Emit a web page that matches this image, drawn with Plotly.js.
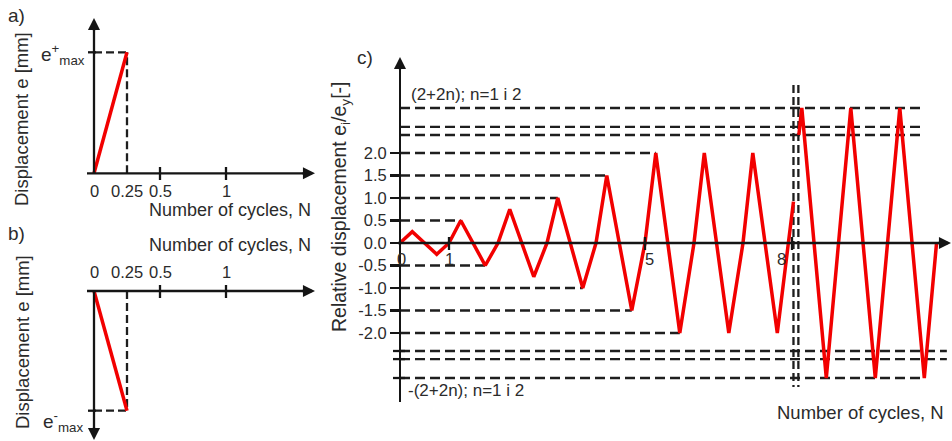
<!DOCTYPE html>
<html><head><meta charset="utf-8">
<script src="https://cdn.plot.ly/plotly-3.0.1.min.js"></script>
<style>html,body{margin:0;padding:0;background:#fff}</style>
</head><body><div id="chart" style="width:952px;height:441px"></div>
<script>
// ---------------- data ----------------
// panel a) monotonic push to e+max (e normalised to e_max)
const cyclesA = [0, 0.25];
const dispA = [0, 1];
// panel b) monotonic pull to e-max
const cyclesB = [0, 0.25];
const dispB = [0, -1];
const tickValsAB = [0, 0.25, 0.5, 1];
const tickTextAB = ['0', '0.25', '0.5', '1'];
const crossTicksAB = [0.5, 1];

// panel c) cyclic protocol, relative displacement ei/ey (broken axis above |2|)
const cyclesC = [0, 0.25, 0.75, 1, 1.24, 1.74, 2, 2.24, 2.73, 3, 3.22, 3.73, 4, 4.22, 4.73, 5,
                 5.22, 5.71, 6, 6.21, 6.71, 7, 7.2, 7.7, 8.03, null, 8.14, 8.2, 8.7, 9.2, 9.7, 10.2, 10.7, 10.95];
const relDispC = [0, 0.25, -0.25, 0, 0.5, -0.5, 0, 0.75, -0.75, 0, 1, -1, 0, 1.5, -1.5, 0,
                  2, -2, 0, 2, -2, 0, 2, -2, 0.92, null, 2.4, 3, -3, 3, -3, 3, -3, 0];
const levelValsC = [2.0, 1.5, 1.0, 0.5, 0.0, -0.5, -1.0, -1.5, -2.0];
const levelTextC = ['2.0', '1.5', '1.0', '0.5', '0.0', '-0.5', '-1.0', '-1.5', '-2.0'];
const guideLevelsC = [0.5, 1.0, 1.5, 2.0, -0.5, -1.0, -1.5, -2.0];
const breakLevelsUpC = [3.0, 2.58, 2.4];
const breakLevelsLowC = [-2.4, -2.58, -3.0];
const xTickValsC = [0, 1, 5, 8];
const xTickTextC = ['0', '1', '5', '8'];
const breakCyclesC = [8.03, 8.13];

// ---------------- layout helpers ----------------
const W = 952, H = 441;
const fx = p => p / W;
const fy = p => 1 - p / H;
function hAxis(p0, p1, origin, ppu) {
  return {domain: [p0 / W, p1 / W], range: [(p0 - origin) / ppu, (p1 - origin) / ppu]};
}
function vAxis(top, bottom, origin, ppu) {
  return {domain: [1 - bottom / H, 1 - top / H], range: [(origin - bottom) / ppu, (origin - top) / ppu]};
}
const FONT = 'Liberation Sans, Arial, sans-serif';
const TXT = '#2b2b2b';
const BLK = '#151515';
const RED = '#f20000';
const AW = 2.3;

const axA = {x: hAxis(60, 330, 94, 132), y: vAxis(5, 205, 173.3, 121)};
const axB = {x: hAxis(60, 330, 94, 132), y: vAxis(225, 441, 291, 119.7)};
const axC = {x: hAxis(340, 952, 400, 49), y: vAxis(60, 402, 243, 45)};

const hidden = {visible: false, showgrid: false, zeroline: false, fixedrange: true};

const traces = [];
const shapes = [];
const ann = [];

function dashTrace(x, y, xa, ya, dash) {
  traces.push({x, y, xaxis: xa, yaxis: ya, mode: 'lines', hoverinfo: 'skip',
    line: {color: '#1e1e1e', width: 2.3, dash: dash || '10px,5px'}});
}
function pxLine(x0, y0, x1, y1, w) {
  shapes.push({type: 'line', xref: 'paper', yref: 'paper', x0: fx(x0), y0: fy(y0), x1: fx(x1), y1: fy(y1),
    line: {color: BLK, width: w || AW}});
}
function arrow(tx, ty, ax, ay) {
  ann.push({x: fx(tx), y: fy(ty), xref: 'paper', yref: 'paper', ax, ay, text: '', showarrow: true,
    arrowhead: 2, arrowsize: 1.05, arrowwidth: AW, arrowcolor: BLK, standoff: 0, startstandoff: 0});
}
function label(text, px, py, size, opts) {
  ann.push(Object.assign({x: fx(px), y: fy(py), xref: 'paper', yref: 'paper', text, showarrow: false,
    xanchor: 'center', yanchor: 'middle', font: {family: FONT, size: size, color: TXT}}, opts || {}));
}

// ---------------- panel a ----------------
const peakA = dispA[dispA.length - 1], peakNA = cyclesA[cyclesA.length - 1];
dashTrace([0, peakNA], [peakA, peakA], 'x', 'y', '8px,4px');
dashTrace([peakNA, peakNA], [0, peakA], 'x', 'y', '8px,4px');
traces.push({x: cyclesA, y: dispA, xaxis: 'x', yaxis: 'y', mode: 'lines', hoverinfo: 'skip',
  line: {color: RED, width: 3.5}});
pxLine(94, 173.3, 94, 24); pxLine(87, 173.3, 308, 173.3);
arrow(94, 18, 0, 14); arrow(315, 173.3, -14, 0);
shapes.push({type: 'line', xref: 'paper', yref: 'y', x0: fx(88), x1: fx(96), y0: peakA, y1: peakA, line: {color: BLK, width: AW}});
crossTicksAB.forEach(v => shapes.push({type: 'line', xref: 'x', yref: 'paper', x0: v, x1: v,
  y0: fy(167), y1: fy(180), line: {color: BLK, width: AW}}));
tickValsAB.forEach((v, i) => ann.push({x: v, xref: 'x', y: fy(191), yref: 'paper', text: tickTextAB[i],
  showarrow: false, xanchor: 'center', yanchor: 'middle', font: {family: FONT, size: 16.5, color: TXT}}));
label('Number of cycles, N', 229.5, 210, 18);
label('Displacement e [mm]', 22, 119, 18.5, {textangle: -90});
label('a)', 16, 15, 19);
label('e<sup>+</sup><sub>max</sub>', 87, 55, 19, {xanchor: 'right'});

// ---------------- panel b ----------------
const peakB = dispB[dispB.length - 1], peakNB = cyclesB[cyclesB.length - 1];
dashTrace([0, peakNB], [peakB, peakB], 'x2', 'y2', '8px,4px');
dashTrace([peakNB, peakNB], [0, peakB], 'x2', 'y2', '8px,4px');
traces.push({x: cyclesB, y: dispB, xaxis: 'x2', yaxis: 'y2', mode: 'lines', hoverinfo: 'skip',
  line: {color: RED, width: 3.5}});
pxLine(94, 291, 94, 432); pxLine(87, 291, 308, 291);
arrow(94, 440, 0, -14); arrow(315, 291, -14, 0);
shapes.push({type: 'line', xref: 'paper', yref: 'y2', x0: fx(88), x1: fx(96), y0: peakB, y1: peakB, line: {color: BLK, width: AW}});
crossTicksAB.forEach(v => shapes.push({type: 'line', xref: 'x2', yref: 'paper', x0: v, x1: v,
  y0: fy(285), y1: fy(298), line: {color: BLK, width: AW}}));
tickValsAB.forEach((v, i) => ann.push({x: v, xref: 'x2', y: fy(272), yref: 'paper', text: tickTextAB[i],
  showarrow: false, xanchor: 'center', yanchor: 'middle', font: {family: FONT, size: 16.5, color: TXT}}));
label('Number of cycles, N', 229.5, 245, 18);
label('Displacement e [mm]', 22, 342, 18.5, {textangle: -90});
label('b)', 16, 233, 19);
label('e<sup>-</sup><sub>max</sub>', 85, 421, 19, {xanchor: 'right'});

// ---------------- panel c ----------------
// guide lines up to the first peak / trough reaching each level
guideLevelsC.forEach(lv => {
  const idx = relDispC.findIndex(v => v === lv);
  dashTrace([0, cyclesC[idx]], [lv, lv], 'x3', 'y3');
});
const lastTroughN = cyclesC[relDispC.lastIndexOf(-3)];
breakLevelsUpC.forEach(lv => dashTrace([0, lastTroughN], [lv, lv], 'x3', 'y3'));
breakLevelsLowC.forEach(lv => dashTrace([0, lv === -3 ? lastTroughN : 11.16], [lv, lv], 'x3', 'y3'));
breakCyclesC.forEach(n => dashTrace([n, n], [3.51, -3.2], 'x3', 'y3', '8px,4px'));
traces.push({x: cyclesC, y: relDispC, xaxis: 'x3', yaxis: 'y3', mode: 'lines', hoverinfo: 'skip',
  connectgaps: false, line: {color: RED, width: 3.5}});
pxLine(398, 243, 944, 243);
arrow(951, 243, -14, 0); arrow(400, 57, 0, 14);
xTickValsC.slice(1).forEach(v => shapes.push({type: 'line', xref: 'x3', yref: 'paper', x0: v, x1: v,
  y0: fy(237), y1: fy(250), line: {color: BLK, width: AW}}));
const xTickShiftC = [1, 0, 4, -11];
xTickValsC.forEach((v, i) => ann.push({x: v, xref: 'x3', y: fy(259), yref: 'paper', text: xTickTextC[i],
  xshift: xTickShiftC[i], showarrow: false, xanchor: 'center', yanchor: 'middle',
  font: {family: FONT, size: 16.5, color: TXT}}));
breakLevelsLowC.forEach(lv => shapes.push({type: 'line', xref: 'paper', yref: 'y3', x0: fx(393), x1: fx(405),
  y0: lv, y1: lv, line: {color: BLK, width: AW}}));
label('Number of cycles, N', 860, 412, 18.5);
label('Relative displacement e<sub>i</sub>/e<sub>y</sub>[-]', 340, 207, 19.5, {textangle: -90});
label('c)', 365, 57, 19);
label('(2+2n); n=1 i 2', 466, 95, 17);
label('-(2+2n); n=1 i 2', 465.5, 390, 17);

const layout = {
  width: W, height: H, margin: {l: 0, r: 0, t: 0, b: 0},
  paper_bgcolor: '#fff', plot_bgcolor: 'rgba(0,0,0,0)', showlegend: false,
  xaxis: Object.assign({}, hidden, axA.x, {anchor: 'y'}),
  yaxis: Object.assign({}, hidden, axA.y, {anchor: 'x'}),
  xaxis2: Object.assign({}, hidden, axB.x, {anchor: 'y2'}),
  yaxis2: Object.assign({}, hidden, axB.y, {anchor: 'x2'}),
  xaxis3: Object.assign({}, hidden, axC.x, {anchor: 'y3'}),
  yaxis3: Object.assign({showgrid: false, zeroline: false, fixedrange: true}, axC.y, {
    anchor: 'free', position: 400 / W, showline: true, linecolor: BLK, linewidth: AW,
    ticks: 'outside', ticklen: 9, tickwidth: AW, tickcolor: BLK,
    tickmode: 'array', tickvals: levelValsC, ticktext: levelTextC,
    tickfont: {family: FONT, size: 16.5, color: TXT}
  }),
  shapes: shapes, annotations: ann
};
Plotly.newPlot('chart', traces, layout, {staticPlot: true, displayModeBar: false});
</script>
</body></html>
